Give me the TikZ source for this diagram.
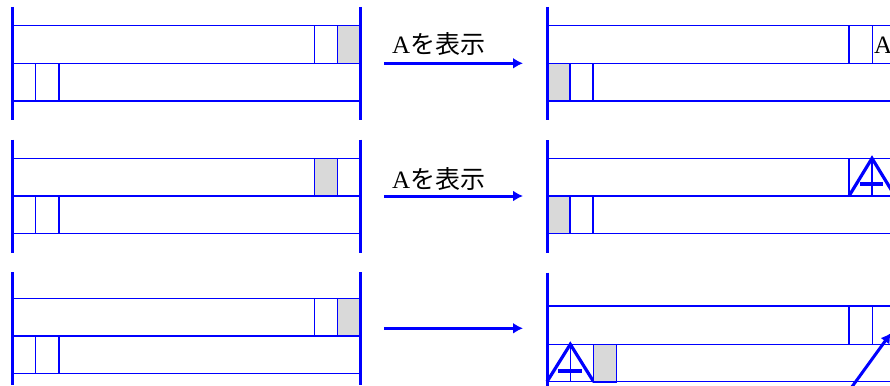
\documentclass[tikz,border=0pt]{standalone}
\usepackage{fontspec}
\setmainfont{Liberation Serif}
\newfontfamily\jpfont{Noto Sans CJK JP}
\usetikzlibrary{arrows.meta}

\begin{document}
\begin{tikzpicture}[x=1pt,y=-1pt,
        bar/.style={blue,line width=3pt},
        thinbar/.style={blue,line width=2.2pt},
        row/.style={draw=blue,line width=1.4pt},
        cell/.style={draw=blue,
            fill=black!15,
            line width=1.4pt,
            inner sep=0pt,
            outer sep=0pt,
            anchor=north west,
            minimum width=23pt,
            minimum height=37.6pt},
        move/.style={blue,line width=3pt,-{Latex[length=10pt,width=11pt]}},
        sign/.style={blue,line width=3.2pt,line join=miter},
        caption/.style={anchor=base west,inner sep=0pt,font=\fontsize{25}{28}\selectfont}]

        \clip (0,0) rectangle (890,385);

        % Left buffers (before)
        \foreach \b/\t/\g [count=\i] in {7/25.7/337.5, 139.5/158.3/314.5, 272.3/298.3/337.5}{
            \draw[row] (12.7,\t) rectangle (360.5,\t+75.3);
            \draw[row] (12.7,\t+37.6) -- (360.5,\t+37.6);
            \draw[row] (314.5,\t) -- (314.5,\t+37.6)
                       (337.5,\t) -- (337.5,\t+37.6);
            \node[cell] (g\i) at (\g,\t) {};
            \draw[row] (35.7,\t+37.6) -- (35.7,\t+75.3)
                       (59,\t+37.6) -- (59,\t+75.3);
            \draw[bar] (12.7,\b) -- (12.7,\b+113);
            \draw[thinbar] (360.5,\b) -- (360.5,\b+113);
        }

        % Right buffer 1
        \draw[row] (547,25.7) -- (900,25.7) (547,63.3) -- (900,63.3) (547,101) -- (900,101);
        \draw[row] (849,25.7) -- (849,63.3) (872.3,25.7) -- (872.3,63.3);
        \node[caption] (r1) at (874,53.3) {A};
        \node[cell] (h1) at (547,63.3) {};
        \draw[row] (593,63.3) -- (593,101);
        \draw[bar] (547,7) -- (547,120);

        % Right buffer 2
        \draw[row] (547,158.3) -- (900,158.3) (547,196) -- (900,196) (547,233.7) -- (900,233.7);
        \draw[row] (849,158.3) -- (849,196);
        \draw[sign] (849,196) -- (872,158.3) -- (895,196);
        \draw[sign] (860,184) -- (883,184);
        \draw[row] (872,158.3) -- (872,196);
        \node[cell] (h2) at (547,196) {};
        \draw[row] (593,196) -- (593,233.7);
        \draw[bar] (547,140) -- (547,253);

        % Right buffer 3
        \draw[row] (547,306) -- (900,306) (547,344.3) -- (900,344.3) (547,381.7) -- (900,381.7);
        \draw[row] (849,306) -- (849,344.3) (872.3,306) -- (872.3,344.3);
        \draw[sign] (547,381.7) -- (570.3,344.3) -- (593.6,381.7);
        \draw[sign] (558,371) -- (582,371);
        \draw[row] (570.3,344.3) -- (570.3,381.7);
        \node[cell] (h3) at (593.6,344.3) {};
        \draw[bar] (547,272.7) -- (547,390);
        \coordinate (u1) at (846,395);
        \coordinate (u2) at (891,333);
        \draw[move] (u1) -- (u2);

        % Arrows between buffers
        \coordinate (s1) at (384,63.3);
        \coordinate (e1) at (523,63.3);
        \coordinate (s2) at (384,196);
        \coordinate (e2) at (523,196);
        \coordinate (s3) at (384,328.3);
        \coordinate (e3) at (523,328.3);
        \draw[move] (s1) -- (e1);
        \draw[move] (s2) -- (e2);
        \draw[move] (s3) -- (e3);
        \node[caption] (t1) at ([shift={(8,-10)}]s1) {A{\jpfont を表示}};
        \node[caption] (t2) at ([shift={(8,-8)}]s2) {A{\jpfont を表示}};

\end{tikzpicture}
\end{document}
